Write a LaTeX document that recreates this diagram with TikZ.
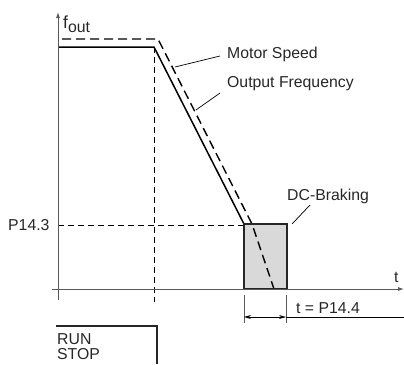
\documentclass[tikz,border=0pt]{standalone}
\usepackage{fontspec}
\setmainfont{Liberation Sans}
\usetikzlibrary{arrows.meta}
\begin{document}
\begin{tikzpicture}[x=1pt,y=-1pt,
  axis/.style={draw=black!65, line width=0.9pt},
  speed/.style={line width=1.4pt, dash pattern=on 9pt off 5pt},
  freq/.style={line width=1.5pt},
  guide/.style={line width=0.8pt, dash pattern=on 6pt off 4pt},
  leader/.style={line width=0.7pt},
  lbl/.style={font=\fontsize{15.8}{15.5}\selectfont, inner sep=0pt, anchor=west, text=black!85},
  brk/.style={fill=black!15, draw=black!85, line width=1.4pt}]
\useasboundingbox (0,0) rectangle (404,364);
% braking box
\coordinate (bA) at (244,224);
\coordinate (bB) at (287,289);
\fill[black!15] (bA) rectangle (bB);
% axes
\coordinate (xs) at (52,289);
\coordinate (xe) at (404,289);
\coordinate (ys) at (58,300);
\coordinate (ye) at (58,12);
% guides
\coordinate (fc) at (154,47);
\coordinate (fcb) at (154,302);
\coordinate (pl) at (58,225);
\draw[guide] (fc) -- (fcb);
\draw[guide] (pl) -- (bA |- pl);
% output frequency
\coordinate (f0) at (58,47);
\draw[freq] (f0) -- (fc) -- (bA);
% motor speed
\coordinate (s0) at (62,39);
\coordinate (s1) at (158,39);
\coordinate (s2) at (252,224);
\coordinate (s3) at (274,289);
\draw[speed] (s0) -- (s1) -- (s2) -- (s3);
\draw[brk, fill=none] (bA) rectangle (bB);
\draw[axis, -{Latex[length=6pt,width=4pt]}] (xs) -- (xe);
\draw[axis, -{Latex[length=6pt,width=4pt]}] (ys) -- (ye);
% labels
\node[lbl] (fout) at (63,24) {\fontsize{17.5}{17}\selectfont f\raisebox{-4pt}{\fontsize{15.8}{15}\selectfont out}};
\node[lbl] (ms) at (227,54) {Motor Speed};
\node[lbl] (of) at (227,84) {Output Frequency};
\node[lbl] (dc) at (287,196) {DC-Braking};
\node[lbl] (p143) at (8,225) {P14.3};
\node[lbl] (tax) at (394,277) {t};
\node[lbl] (tp) at (296,308) {t = P14.4};
% leaders
\coordinate (msp) at (175,67);
\coordinate (msq) at (220,56);
\coordinate (ofp) at (196,110);
\coordinate (ofq) at (220,93);
\coordinate (dcp) at (292,224);
\coordinate (dcq) at (310,205);
\draw[leader] (msp) -- (msq);
\draw[leader] (ofp) -- (ofq);
\draw[leader] (dcp) -- (dcq);
% dimension
\coordinate (d1t) at (244,295);
\coordinate (d1b) at (244,323);
\coordinate (d2t) at (286,295);
\coordinate (d2b) at (286,323);
\coordinate (da) at (244,317);
\coordinate (db) at (286,317);
\coordinate (de) at (404,317);
\draw[axis, line width=0.8pt] (d1t) -- (d1b);
\draw[axis, line width=0.8pt] (d2t) -- (d2b);
\draw[line width=0.8pt, {Stealth[length=7pt,width=4pt]}-{Stealth[length=7pt,width=4pt]}] (da) -- (db);
\draw[line width=0.8pt] (db) -- (de);
% run/stop
\coordinate (r0) at (56,326);
\coordinate (r1) at (157,326);
\coordinate (r2) at (157,364);
\draw[line width=1.4pt, draw=black!85] (r0) -- (r1) -- (r2);
\node[lbl, align=left, anchor=north west] (rs) at (57,333) {RUN\\STOP};
\end{tikzpicture}
\end{document}
